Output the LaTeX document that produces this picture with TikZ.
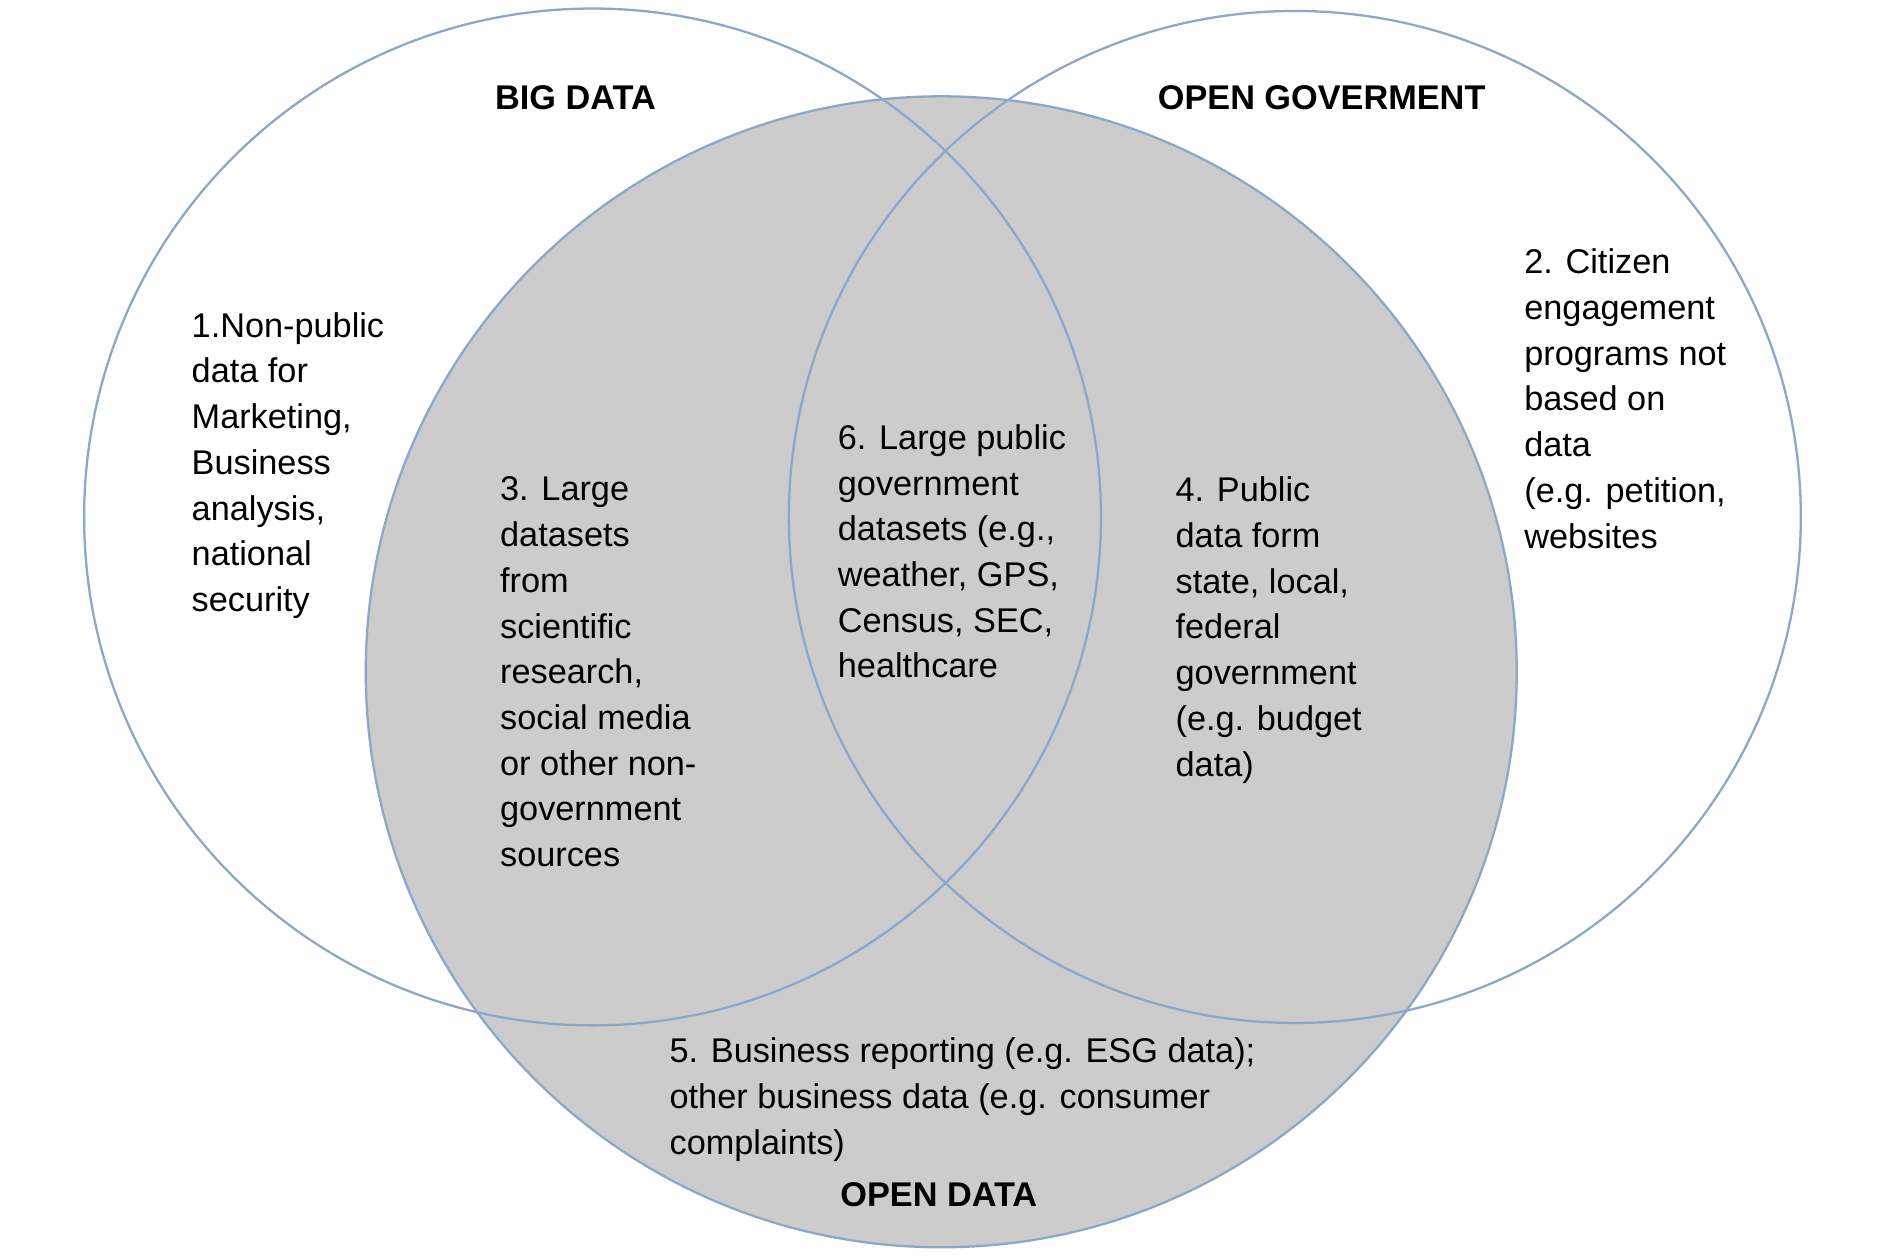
\documentclass[tikz,border=0pt]{standalone}
\usepackage{fontspec}
\setmainfont{Liberation Sans}
\begin{document}
\begin{tikzpicture}[x=0.03cm,y=-0.03cm,
  ring/.style={draw=ringblue,line width=1.6pt},
  lbl/.style={anchor=north west,align=left,inner sep=0pt,font=\fontsize{24}{32}\selectfont},
  ttl/.style={inner sep=0pt,font=\fontsize{24}{30}\selectfont\bfseries}]
\definecolor{ringblue}{HTML}{8BA8CC}
\definecolor{fillgrey}{HTML}{CCCCCC}
\useasboundingbox (0,0) rectangle (1560,1032);
\fill[fillgrey] (772,551) circle (472);
\draw[ring] (772,551) circle (472);
\draw[ring] (486,424) circle (417);
\draw[ring] (1062,424) circle (415);
\node[ttl] (big) at (472,80) {BIG DATA};
\node[ttl] (gov) at (1084,80) {OPEN GOVERMENT};
\node[ttl] (od) at (770,980) {OPEN DATA};
\node[lbl] (t1) at (157,256) {1.Non-public\\data for\\Marketing,\\Business\\analysis,\\national\\security};
\node[lbl] (t2) at (1250,204) {2. Citizen\\engagement\\programs not\\based on\\data\\(e.g. petition,\\websites};
\node[lbl] (t3) at (410,391) {3. Large\\datasets\\from\\scientific\\research,\\social media\\or other non-\\government\\sources};
\node[lbl] (t6) at (687,348) {6. Large public\\government\\datasets (e.g.,\\weather, GPS,\\Census, SEC,\\healthcare};
\node[lbl] (t4) at (964,391) {4. Public\\data form\\state, local,\\federal\\government\\(e.g. budget\\data)};
\node[lbl] (t5) at (549,851) {5. Business reporting (e.g. ESG data);\\other business data (e.g. consumer\\complaints)};
\end{tikzpicture}
\end{document}
